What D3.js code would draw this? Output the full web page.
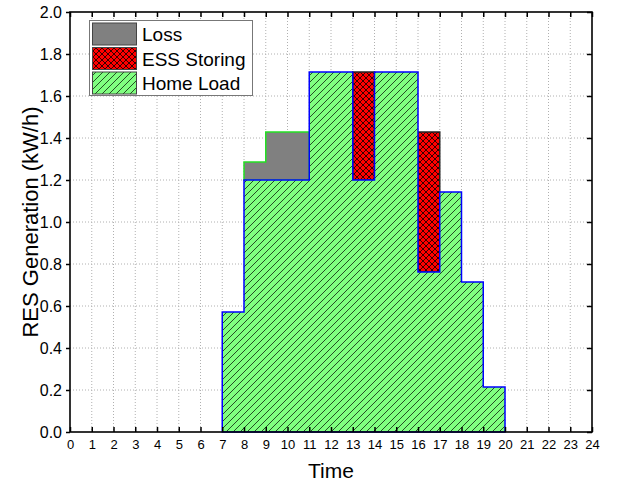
<!DOCTYPE html>
<html>
<head>
<meta charset="utf-8">
<script src="https://cdn.jsdelivr.net/npm/d3@7"></script>
<style>
  html, body { margin: 0; padding: 0; background: #fff; }
  svg { display: block; font-family: "Liberation Sans", Arial, sans-serif; }
</style>
</head>
<body>
<svg id="chart" width="619" height="487"></svg>
<script>
// ---- data ----
const hourStart  = [7, 8, 9, 10, 11, 12, 13, 14, 15, 16, 17, 18, 19];
const homeLoad   = [0.571, 1.2, 1.2, 1.2, 1.714, 1.714, 1.2, 1.714, 1.714, 0.762, 1.143, 0.714, 0.214];
const essStoring = [0, 0, 0, 0, 0, 0, 0.514, 0, 0, 0.667, 0, 0, 0];
const lossValues = [0, 0.086, 0.229, 0.229, 0, 0, 0, 0, 0, 0, 0, 0, 0];
const seriesNames = ["Loss", "ESS Storing", "Home Load"];
const xTickValues = [0,1,2,3,4,5,6,7,8,9,10,11,12,13,14,15,16,17,18,19,20,21,22,23,24];
const yTickValues = [0, 0.2, 0.4, 0.6, 0.8, 1.0, 1.2, 1.4, 1.6, 1.8, 2.0];
const xTitle = "Time";
const yTitle = "RES Generation (kW/h)";

// ---- layout ----
const svg = d3.select("#chart");
const L = 70, R = 592, T = 12, B = 432;
const x = d3.scaleLinear().domain([0, 24]).range([L, R]);
const y = d3.scaleLinear().domain([0, 2]).range([B, T]);

// ---- patterns ----
const defs = svg.append("defs");
const hp = defs.append("pattern").attr("id", "hatchGreen")
  .attr("patternUnits", "userSpaceOnUse").attr("width", 7).attr("height", 7);
hp.append("rect").attr("width", 7).attr("height", 7).attr("fill", "#80ff80");
hp.append("path").attr("d", "M-1,1 L1,-1 M0,7 L7,0 M6,8 L8,6")
  .attr("stroke", "#1a3a1a").attr("stroke-width", 0.9);

const cp = defs.append("pattern").attr("id", "crossRed")
  .attr("patternUnits", "userSpaceOnUse").attr("width", 6).attr("height", 6);
cp.append("rect").attr("width", 6).attr("height", 6).attr("fill", "#ff0000");
cp.append("path").attr("d", "M-1,1 L1,-1 M0,6 L6,0 M5,7 L7,5 M-1,5 L1,7 M0,0 L6,6 M5,-1 L7,1")
  .attr("stroke", "#200000").attr("stroke-width", 0.9);

// ---- grid ----
const grid = svg.append("g");
xTickValues.filter(v => v > 0 && v < 24).forEach(v => {
  grid.append("line").attr("x1", x(v)).attr("x2", x(v)).attr("y1", T).attr("y2", B)
    .attr("stroke", "#b0b0b0").attr("stroke-width", 1).attr("stroke-dasharray", "1,2");
});
yTickValues.filter(v => v > 0 && v < 2).forEach(v => {
  grid.append("line").attr("x1", L).attr("x2", R).attr("y1", y(v)).attr("y2", y(v))
    .attr("stroke", "#b0b0b0").attr("stroke-width", 1).attr("stroke-dasharray", "1,2");
});

// ---- build step segments ----
function segments(loArr, hiArr, keep) {
  const segs = [];
  let cur = null, prevH = null;
  hourStart.forEach((h, i) => {
    if (!keep(i)) { cur = null; return; }
    if (!cur || prevH !== h - 1) { cur = []; segs.push(cur); }
    cur.push({ x: h, lo: loArr[i], hi: hiArr[i] });
    cur.push({ x: h + 1, lo: loArr[i], hi: hiArr[i] });
    prevH = h;
  });
  return segs;
}
const area = d3.area().x(d => x(d.x)).y0(d => y(d.lo)).y1(d => y(d.hi));

const zeros = homeLoad.map(() => 0);
const essTop = homeLoad.map((v, i) => v + essStoring[i]);
const lossTop = homeLoad.map((v, i) => v + essStoring[i] + lossValues[i]);
const lossLo = homeLoad.map((v, i) => v + essStoring[i]);

const plot = svg.append("g");
segments(homeLoad, essTop, i => essStoring[i] > 0).forEach(s => {
  plot.append("path").attr("d", area(s)).attr("fill", "url(#crossRed)")
    .attr("stroke", "#222").attr("stroke-width", 1.5);
});
segments(lossLo, lossTop, i => lossValues[i] > 0).forEach(s => {
  plot.append("path").attr("d", area(s)).attr("fill", "#808080")
    .attr("stroke", "#22e022").attr("stroke-width", 1.5);
});
segments(zeros, homeLoad, i => homeLoad[i] > 0).forEach(s => {
  plot.append("path").attr("d", area(s)).attr("fill", "url(#hatchGreen)")
    .attr("stroke", "#0000ff").attr("stroke-width", 1.5);
});

// ---- axes ----
const ax = svg.append("g");
ax.append("g").attr("transform", `translate(0,${B})`)
  .call(d3.axisBottom(x).tickValues(xTickValues).tickSize(-5).tickPadding(8).tickFormat(d3.format("d")))
  .call(g => g.select(".domain").remove())
  .call(g => g.selectAll("text").attr("font-size", 13).attr("font-family", "Liberation Sans, Arial").attr("fill", "#000"));
ax.append("g").attr("transform", `translate(0,${T})`)
  .call(d3.axisTop(x).tickValues(xTickValues).tickSize(-5).tickFormat(""))
  .call(g => g.select(".domain").remove());
ax.append("g").attr("transform", `translate(${L},0)`)
  .call(d3.axisLeft(y).tickValues(yTickValues).tickSize(4).tickPadding(4).tickFormat(d3.format(".1f")))
  .call(g => g.select(".domain").remove())
  .call(g => g.selectAll("text").attr("font-size", 16).attr("font-family", "Liberation Sans, Arial").attr("fill", "#000"));
ax.append("g").attr("transform", `translate(${R},0)`)
  .call(d3.axisRight(y).tickValues(yTickValues).tickSize(-5).tickFormat(""))
  .call(g => g.select(".domain").remove());
ax.selectAll(".tick line").attr("stroke", "#000").attr("stroke-width", 1.5);
ax.append("rect").attr("x", L).attr("y", T).attr("width", R - L).attr("height", B - T)
  .attr("fill", "none").attr("stroke", "#000").attr("stroke-width", 1.6);

// ---- titles ----
svg.append("text").attr("x", (L + R) / 2).attr("y", 478).attr("text-anchor", "middle")
  .attr("font-size", 21).text(xTitle);
svg.append("text").attr("transform", `translate(38,${(T + B) / 2}) rotate(-90)`)
  .attr("text-anchor", "middle").attr("font-size", 22).text(yTitle);

// ---- legend ----
const lg = svg.append("g");
lg.append("rect").attr("x", 89.5).attr("y", 20.5).attr("width", 163).attr("height", 75)
  .attr("fill", "#fff").attr("stroke", "#777").attr("stroke-width", 1);
const fills = ["#808080", "url(#crossRed)", "url(#hatchGreen)"];
const swY = [23, 47.5, 72];
seriesNames.forEach((n, i) => {
  lg.append("rect").attr("x", 92.5).attr("y", swY[i]).attr("width", 44).attr("height", 22)
    .attr("fill", fills[i]).attr("stroke", "#444").attr("stroke-width", 1);
  lg.append("text").attr("x", 142).attr("y", swY[i] + 18).attr("font-size", 19).text(n);
});
</script>
</body>
</html>
